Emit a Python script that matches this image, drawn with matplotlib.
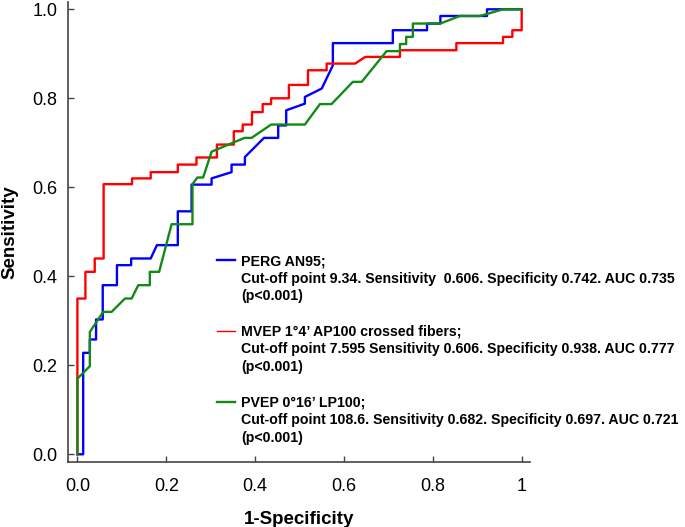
import matplotlib
matplotlib.use('Agg')
import matplotlib.pyplot as plt
from matplotlib.lines import Line2D

plt.rcParams['font.family'] = ['Liberation Sans', 'DejaVu Sans']

# ROC vertices (1-specificity, sensitivity)
perg_fpr = [0, 0.013, 0.013, 0.028, 0.028, 0.042, 0.042, 0.057, 0.057, 0.089, 0.089,
            0.121, 0.121, 0.165, 0.179, 0.226, 0.226, 0.257, 0.257, 0.302, 0.302,
            0.347, 0.347, 0.377, 0.377, 0.420, 0.452, 0.452, 0.470, 0.470, 0.512,
            0.512, 0.550, 0.575, 0.575, 0.710, 0.710, 0.787, 0.787, 0.817, 0.817,
            0.922, 0.922, 1.0]
perg_tpr = [0, 0, 0.228, 0.228, 0.258, 0.258, 0.303, 0.303, 0.380, 0.380, 0.425,
            0.425, 0.440, 0.440, 0.470, 0.470, 0.546, 0.546, 0.606, 0.606, 0.620,
            0.634, 0.651, 0.651, 0.668, 0.711, 0.711, 0.739, 0.739, 0.773, 0.788,
            0.803, 0.822, 0.874, 0.924, 0.924, 0.953, 0.953, 0.968, 0.968, 0.985,
            0.985, 1.0, 1.0]

mvep_fpr = [0, 0, 0.018, 0.018, 0.039, 0.039, 0.059, 0.059, 0.123, 0.123, 0.165,
            0.165, 0.226, 0.226, 0.268, 0.268, 0.314, 0.314, 0.352, 0.352, 0.372,
            0.372, 0.393, 0.393, 0.417, 0.417, 0.436, 0.436, 0.476, 0.476, 0.519,
            0.519, 0.561, 0.561, 0.625, 0.648, 0.726, 0.726, 0.853, 0.853, 0.958,
            0.958, 0.979, 0.979, 1.0, 1.0]
mvep_tpr = [0, 0.350, 0.350, 0.410, 0.410, 0.440, 0.440, 0.607, 0.607, 0.620, 0.620,
            0.634, 0.634, 0.651, 0.651, 0.667, 0.667, 0.696, 0.696, 0.726, 0.726,
            0.741, 0.741, 0.769, 0.769, 0.787, 0.787, 0.800, 0.800, 0.830, 0.830,
            0.863, 0.863, 0.878, 0.878, 0.893, 0.893, 0.908, 0.908, 0.924, 0.924,
            0.938, 0.938, 0.953, 0.953, 1.0]

pvep_fpr = [0, 0, 0.028, 0.028, 0.058, 0.077, 0.107, 0.122, 0.137, 0.163, 0.163,
            0.184, 0.212, 0.259, 0.259, 0.270, 0.283, 0.302, 0.376, 0.392, 0.436,
            0.512, 0.546, 0.572, 0.620, 0.640, 0.696, 0.726, 0.726, 0.740, 0.740,
            0.755, 0.755, 0.817, 0.861, 0.906, 0.958, 1.0]
pvep_tpr = [0, 0.170, 0.198, 0.275, 0.320, 0.320, 0.350, 0.350, 0.380, 0.380, 0.410,
            0.410, 0.517, 0.517, 0.607, 0.622, 0.622, 0.680, 0.711, 0.711, 0.741,
            0.741, 0.787, 0.787, 0.837, 0.837, 0.906, 0.906, 0.922, 0.922, 0.938,
            0.938, 0.968, 0.968, 0.985, 0.985, 1.0, 1.0]

labels = [
    'PERG AN95;',
    'Cut-off point 9.34. Sensitivity  0.606. Specificity 0.742. AUC 0.735',
    '(p<0.001)',
    'MVEP 1°4\u2019 AP100 crossed fibers;',
    'Cut-off point 7.595 Sensitivity 0.606. Specificity 0.938. AUC 0.777',
    '(p<0.001)',
    'PVEP 0°16\u2019 LP100;',
    'Cut-off point 108.6. Sensitivity 0.682. Specificity 0.697. AUC 0.721',
    '(p<0.001)',
]

blue = '#0000ff'
red = '#ff0000'
green = '#138a13'

fig = plt.figure(figsize=(6.85, 5.27), dpi=100)
ax = fig.add_axes([0.0997, 0.1228, 0.674, 0.8734])

ax.plot(perg_fpr, perg_tpr, color=blue, lw=1.7)
ax.plot(mvep_fpr, mvep_tpr, color=red, lw=1.7)
ax.plot(pvep_fpr, pvep_tpr, color=green, lw=1.7)

ax.set_xlim(-0.0205, 1.0187)
ax.set_ylim(-0.018, 1.0164)
ax.set_xticks([0, 0.2, 0.4, 0.6, 0.8, 1])
ax.set_xticklabels(['0.0', '0.2', '0.4', '0.6', '0.8', '1'])
ax.set_yticks([0, 0.2, 0.4, 0.6, 0.8, 1.0])
ax.set_yticklabels(['0.0', '0.2', '0.4', '0.6', '0.8', '1.0'])

for side in ['top', 'right']:
    ax.spines[side].set_visible(False)
for side in ['left', 'bottom']:
    ax.spines[side].set_color('#444444')
    ax.spines[side].set_linewidth(1.2)

ax.tick_params(direction='in', length=4, width=1, colors='#444444',
               labelcolor='black', labelsize=13)
ax.tick_params(axis='x', pad=11)
ax.tick_params(axis='y', pad=8)

ax.set_xlabel('1-Specificity', fontsize=13.5, fontweight='bold', labelpad=12)
ax.set_ylabel('Sensitivity', fontsize=13.5, fontweight='bold', labelpad=10)

# legend: one row per text line, a blank row between the curves
blank = Line2D([], [], color='none')
handles = [Line2D([], [], color=blue, lw=1.7), blank, blank, blank,
           Line2D([], [], color=red, lw=1.0), blank, blank, blank,
           Line2D([], [], color=green, lw=1.7), blank, blank]
leg_labels = labels[0:3] + [' '] + labels[3:6] + [' '] + labels[6:9]
fig.legend(handles, leg_labels, loc='upper left',
           bbox_to_anchor=(217 / 685, 1 - 254 / 527), bbox_transform=fig.transFigure,
           frameon=False, borderpad=0, borderaxespad=0,
           handlelength=1.25, handletextpad=0.45, labelspacing=0.26,
           prop={'weight': 'bold', 'size': 10.2})

fig.savefig('out.png', dpi=100)
